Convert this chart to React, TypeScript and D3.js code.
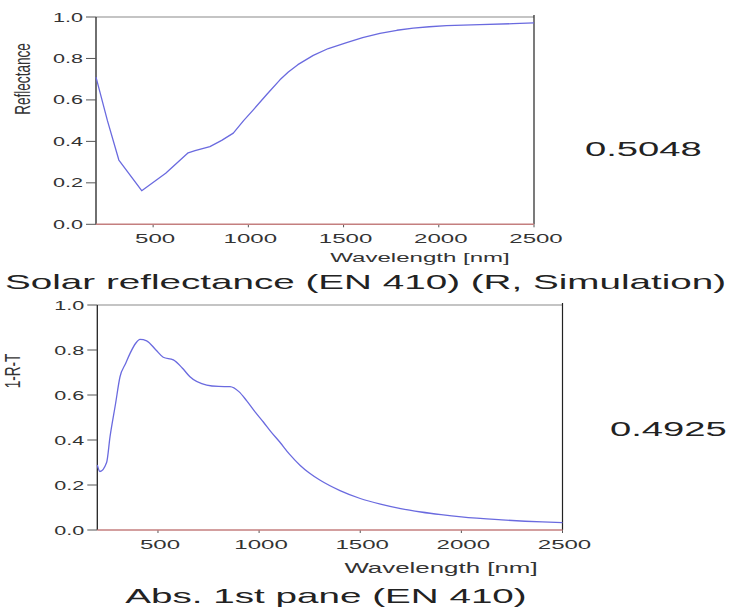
import React from "react";
import * as d3 from "d3";

// ---- data ----
const reflWavelengths = [200, 260, 320, 440, 566, 684, 720, 798, 860, 921, 975, 1026, 1100, 1166, 1210, 1260, 1341, 1420, 1516, 1600, 1691, 1780, 1866, 1950, 2041, 2216, 2390, 2500];
const reflValues = [0.71, 0.5, 0.31, 0.162, 0.246, 0.345, 0.355, 0.375, 0.405, 0.44, 0.5, 0.552, 0.63, 0.697, 0.735, 0.77, 0.815, 0.848, 0.876, 0.9, 0.921, 0.936, 0.946, 0.953, 0.958, 0.963, 0.968, 0.972];

const absWavelengths = [200, 213, 246, 263, 290, 312, 340, 362, 390, 411, 444, 490, 526, 576, 620, 658, 741, 800, 856, 900, 938, 980, 1021, 1060, 1103, 1150, 1202, 1250, 1300, 1400, 1500, 1600, 1700, 1800, 1900, 2000, 2200, 2400, 2500];
const absValues = [0.289, 0.26, 0.3, 0.415, 0.56, 0.68, 0.74, 0.785, 0.83, 0.847, 0.841, 0.8, 0.768, 0.756, 0.72, 0.681, 0.644, 0.638, 0.637, 0.615, 0.575, 0.525, 0.48, 0.435, 0.39, 0.337, 0.288, 0.252, 0.222, 0.175, 0.14, 0.115, 0.095, 0.08, 0.068, 0.058, 0.045, 0.036, 0.033];

const yTicks = [0, 0.2, 0.4, 0.6, 0.8, 1.0];
const xTicks = [500, 1000, 1500, 2000, 2500];
const xDomain = [200, 2500];

const panels = [
  {
    wl: reflWavelengths, vals: reflValues, yLabel: "Reflectance", value: "0.5048",
    title: "Solar reflectance (EN 410) (R, Simulation)",
  },
  {
    wl: absWavelengths, vals: absValues, yLabel: "1-R-T", value: "0.4925",
    title: "Abs. 1st pane (EN 410)",
  },
];

// layout per panel (positions/styles)
const layouts = [
  { left: 96, right: 534, top: 17, bottom: 224.3, ylx: 24, yly: 79, xlab: 420, xlabY: 262, xlabSize: 13, tickY: 243,
    valX: 585, valY: 156, titleX: 5, titleY: 289, titleAnchor: "start", smooth: false },
  { left: 97.3, right: 562.5, top: 305, bottom: 530, ylx: 14, yly: 371, xlab: 441, xlabY: 573, xlabSize: 14, tickY: 549,
    valX: 610, valY: 436, titleX: 326, titleY: 603, titleAnchor: "middle", smooth: true },
];

const FONT = "'Liberation Sans', Arial, sans-serif";

function T({ x, y, size, sx = 1.85, anchor = "start", fill = "#222", children }: any) {
  return (
    <text transform={`translate(${x},${y}) scale(${sx},1)`} fontSize={size} textAnchor={anchor}
      fontFamily={FONT} fill={fill}>{children}</text>
  );
}

function Panel({ p, L }: any) {
  const x = d3.scaleLinear().domain(xDomain).range([L.left, L.right]);
  const y = d3.scaleLinear().domain([0, 1]).range([L.bottom, L.top]);
  const pts = p.wl.map((w: number, i: number) => [w, p.vals[i]] as [number, number]);
  const line = d3.line<[number, number]>().x(d => x(d[0])).y(d => y(d[1]))
    .curve(L.smooth ? d3.curveMonotoneX : d3.curveLinear);
  return (
    <g>
      {/* frame */}
      <line x1={L.left} x2={L.right} y1={L.top} y2={L.top} stroke="#8a8a8a" strokeWidth={1.2} />
      <line x1={L.right} x2={L.right} y1={L.top - 2} y2={L.bottom} stroke="#222" strokeWidth={1.2} />
      <line x1={L.left} x2={L.left} y1={L.top} y2={L.bottom} stroke="#222" strokeWidth={1.3} />
      {/* y ticks */}
      {yTicks.map(t => (
        <g key={t}>
          <line x1={L.left - 10} x2={L.left} y1={y(t)} y2={y(t)} stroke="#555" strokeWidth={1} />
          <T x={L.left - 13} y={y(t) + 4.5} size={12} sx={1.8} anchor="end" fill="#333">{d3.format(".1f")(t)}</T>
        </g>
      ))}
      {/* x ticks */}
      {xTicks.map(t => (
        <g key={t}>
          <line x1={x(t)} x2={x(t)} y1={L.bottom} y2={L.bottom + 3} stroke="#555" strokeWidth={1} />
          <T x={x(t) + 2} y={L.tickY} size={13} sx={1.85} anchor="middle" fill="#333">{t}</T>
        </g>
      ))}
      {/* baseline */}
      <line x1={L.left} x2={L.right} y1={L.bottom} y2={L.bottom} stroke="#c47f7f" strokeWidth={1.5} />
      {/* curve */}
      <path d={line(pts) || ""} fill="none" stroke="#6a6adf" strokeWidth={1.3} strokeLinejoin="round" />
      {/* labels */}
      <T x={L.xlab} y={L.xlabY} size={L.xlabSize} sx={1.85} anchor="middle" fill="#333">Wavelength [nm]</T>
      <text transform={`translate(${L.ylx + 6},${L.yly}) scale(1.6,1) rotate(-90)`} fontSize={13.6} textAnchor="middle"
        fontFamily={FONT} fill="#333">{p.yLabel}</text>
      <T x={L.valX} y={L.valY} size={20} sx={1.91} fill="#222">{p.value}</T>
      <T x={L.titleX} y={L.titleY} size={21} sx={1.84} anchor={L.titleAnchor} fill="#222">{p.title}</T>
    </g>
  );
}

export default function App() {
  return (
    <svg width={731} height={614} style={{ position: "absolute", left: 0, top: 0, background: "#fff" }}>
      <rect width={731} height={614} fill="#fff" />
      {panels.map((p, i) => <Panel key={i} p={p} L={layouts[i]} />)}
    </svg>
  );
}
